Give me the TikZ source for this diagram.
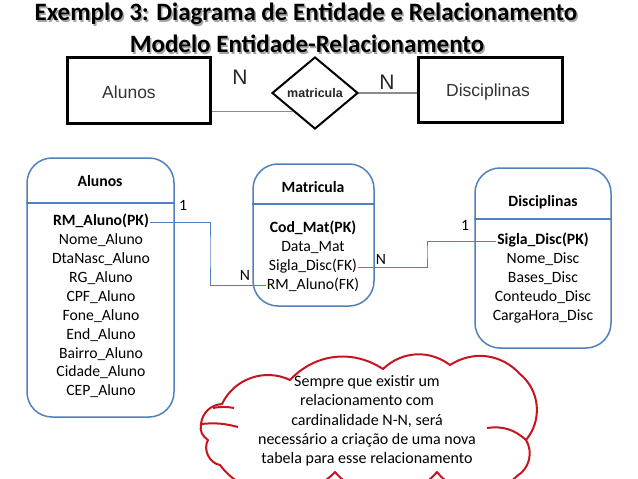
\documentclass[tikz,border=0pt]{standalone}
\usepackage{fontspec}
\setmainfont{Carlito}
\newfontfamily\arialf{Liberation Sans}
\usetikzlibrary{shapes.geometric}
\definecolor{tblue}{RGB}{79,129,189}
\definecolor{cred}{RGB}{200,20,30}
\definecolor{lgray}{RGB}{140,140,140}
\begin{document}
\begin{tikzpicture}[x=1pt,y=-1pt,
  tbl/.style={draw=tblue, line width=1.5pt, rounded corners=25pt, inner sep=0pt},
  sepline/.style={draw=tblue, line width=1.5pt},
  conn/.style={draw=tblue, line width=1pt},
  item/.style={inner sep=1pt, font=\fontsize{15.7}{19}\selectfont, text height=11pt, text depth=3.5pt},
  pk/.style={item, font=\bfseries\fontsize{15.7}{19}\selectfont},
  ttl/.style={inner sep=0pt, font=\bfseries\fontsize{25}{30}\selectfont},
  erbox/.style={draw=black, line width=3pt, inner sep=0pt},
  erlabel/.style={inner sep=0pt, font=\arialf\fontsize{17.5}{20}\selectfont, text=black!80},
  card/.style={inner sep=0pt, font=\arialf\fontsize{21}{24}\selectfont, text=black!85},
  cloudtxt/.style={inner sep=0pt, align=center, font=\fontsize{16}{19.3}\selectfont},
  cloudline/.style={draw=cred, line width=2pt, line join=round},
]
\useasboundingbox (0,0) rectangle (638,479);
\clip (0,0) rectangle (638,479);
\fill[white] (0,0) rectangle (638,479);

% Titles with shadow
\node[ttl, text=black!35] at (307.5,15.5) {Exemplo 3: Diagrama de Entidade e Relacionamento};
\node[ttl] (t1) at (306,14) {Exemplo 3: Diagrama de Entidade e Relacionamento};
\node[ttl, text=black!35] at (308.5,45.5) {Modelo Entidade-Relacionamento};
\node[ttl] (t2) at (307,44) {Modelo Entidade-Relacionamento};

% Top ER diagram
\node[erbox, minimum width=143pt, minimum height=66pt] (erA) at (138.5,90) {};
\node[erlabel] at (129,92) {Alunos};
\node[erbox, minimum width=144pt, minimum height=65pt] (erD) at (490,89.5) {};
\node[erlabel] at (488,92) {Disciplinas};
\node[diamond, draw=black, line width=2pt, minimum width=86pt, minimum height=72pt, aspect=1.2, inner sep=0pt,
      font=\arialf\bfseries\fontsize{12.5}{14}\selectfont, text=black!85] (dia) at (315,93) {matricula};
\draw[lgray, line width=1.2pt] (erA.east |- dia.south west) -- (dia.south west);
\draw[lgray, line width=1.2pt] (dia.east) -- (dia.east -| erD.west);
\node[card] at (240,77) {N};
\node[card] at (387,82) {N};

% Tables
\node[tbl, minimum width=147pt, minimum height=259pt] (tA) at (100.5,287.5) {};
\draw[sepline] (tA.west |- 0,203) -- (tA.east |- 0,203);
\node[pk] at (100,183) {Alunos};
\node[pk] (rmA) at (101,222) {RM\_Aluno(PK)};
\foreach \t [count=\i] in {Nome\_Aluno, DtaNasc\_Aluno, RG\_Aluno, CPF\_Aluno, Fone\_Aluno, End\_Aluno, Bairro\_Aluno, Cidade\_Aluno, CEP\_Aluno}
  \node[item] (a\i) at (101,222+18.9*\i) {\t};

\node[tbl, minimum width=121pt, minimum height=142pt] (tM) at (313.5,235) {};
\draw[sepline] (tM.west |- 0,204) -- (tM.east |- 0,204);
\node[pk] at (313,189) {Matricula};
\node[pk] (codM) at (313,229) {Cod\_Mat(PK)};
\node[item] (dataM) at (313,248) {Data\_Mat};
\node[item] (sigFK) at (313,267) {Sigla\_Disc(FK)};
\node[item] (rmFK) at (313,285.5) {RM\_Aluno(FK)};

\node[tbl, minimum width=136pt, minimum height=180pt] (tD) at (543,258) {};
\draw[sepline] (tD.west |- 0,219) -- (tD.east |- 0,219);
\node[pk] at (543,203) {Disciplinas};
\node[pk] (sigPK) at (543,241) {Sigla\_Disc(PK)};
\foreach \t [count=\i] in {Nome\_Disc, Bases\_Disc, Conteudo\_Disc, CargaHora\_Disc}
  \node[item] (d\i) at (543,241+19*\i) {\t};

% Connectors
\coordinate (bA) at (210,250);
\coordinate (bD) at (427,250);
\draw[conn] (rmA.east) -| (bA) |- (rmFK.west);
\draw[conn] (sigFK.east) -| (bD) |- (sigPK.west);
\node[item] at (183,207) {1};
\node[item] at (245,277) {N};
\node[item] at (381,261) {N};
\node[item] at (465,227) {1};

% Cloud
\draw[cloudline]
  (222,404) to[bend left=45] (290,380) to[bend left=40] (383,369)
  to[bend left=40] (450,365) to[bend left=40] (520,374)
  to[bend left=45] (526,440) to[bend left=45] (517,476)
  to[bend left=50] (437,472) to[bend left=50] (335,472)
  to[bend left=50] (220,465) to[bend left=55] (208,440)
  to[bend left=35] (201,424) to[bend left=40] cycle;
\draw[cloudline] (201,424) to[bend left=10] (238,427);
\draw[cloudline] (487,428) to[bend left=25] (526,440);
\draw[cloudline] (213,408) to[bend left=10] (234,408);
\node[cloudtxt] (ct) at (367,421) {Sempre que existir um\\relacionamento com\\cardinalidade N-N, será\\necessário a criação de uma nova\\tabela para esse relacionamento};
\end{tikzpicture}
\end{document}
